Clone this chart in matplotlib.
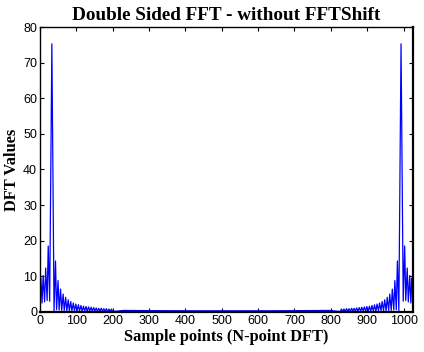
import matplotlib
matplotlib.use('Agg')
import matplotlib.pyplot as plt

# DFT magnitude (sample index is 1-based, N = 1024)
# low end of the spectrum: peak near bin 33 with its side lobes
bins_low = [1, 3, 6, 9, 13, 16, 20, 23, 27, 33, 39, 43, 46, 50, 53, 57, 60,
            64, 67, 71, 74, 78, 81, 85, 88, 92, 95, 99, 102, 106, 109, 113,
            116, 120, 123, 127, 130, 134, 137, 141, 144, 148, 151, 155, 158,
            162, 165, 169, 172, 176, 179, 183, 186, 190, 193, 197, 200,
            230, 300, 400, 513]
mag_low = [6.0, 9.5, 2.5, 10.2, 2.8, 12.3, 3.2, 18.5, 3.0, 75.3, 0.3, 14.3,
           0.6, 8.8, 0.5, 6.4, 0.4, 5.0, 0.4, 4.1, 0.3, 3.4, 0.3, 2.9, 0.3,
           2.5, 0.3, 2.2, 0.2, 2.0, 0.2, 1.8, 0.2, 1.6, 0.2, 1.5, 0.2, 1.4,
           0.2, 1.3, 0.2, 1.2, 0.2, 1.1, 0.2, 1.0, 0.2, 1.0, 0.1, 0.9, 0.1,
           0.9, 0.1, 0.8, 0.1, 0.8, 0.1, 0.4, 0.35, 0.3, 0.3]

# high end: mirror image, peak near bin 993
bins_high = [626, 726, 796, 826, 829, 833, 836, 840, 843, 847, 850, 854,
             857, 861, 864, 868, 871, 875, 878, 882, 885, 889, 892, 896,
             899, 903, 906, 910, 913, 917, 920, 924, 927, 931, 934, 938,
             941, 945, 948, 952, 955, 959, 962, 966, 969, 973, 976, 980,
             983, 987, 993, 999, 1003, 1006, 1010, 1013, 1017, 1020, 1023,
             1024]
mag_high = [0.3, 0.35, 0.4, 0.1, 0.8, 0.1, 0.8, 0.1, 0.9, 0.1, 0.9, 0.1,
            1.0, 0.2, 1.0, 0.2, 1.1, 0.2, 1.2, 0.2, 1.3, 0.2, 1.4, 0.2,
            1.5, 0.2, 1.6, 0.2, 1.8, 0.2, 2.0, 0.2, 2.2, 0.3, 2.5, 0.3,
            2.9, 0.3, 3.4, 0.3, 4.1, 0.4, 5.0, 0.4, 6.4, 0.5, 8.8, 0.6,
            14.3, 0.3, 75.3, 3.0, 18.5, 3.2, 12.3, 2.8, 10.2, 2.5, 9.5, 6.0]

x_ticks = [0, 100, 200, 300, 400, 500, 600, 700, 800, 900, 1000]
y_ticks = [0, 10, 20, 30, 40, 50, 60, 70, 80]

serif = ['Liberation Serif', 'DejaVu Serif']
tick_font = ['Liberation Sans Narrow', 'Liberation Sans', 'DejaVu Sans']

fig = plt.figure(figsize=(4.24, 3.52), dpi=100)
ax = fig.add_axes([0.094, 0.114, 0.881, 0.809])

ax.plot(bins_low + bins_high, mag_low + mag_high, color='#0000ff', linewidth=0.9)

ax.set_xlim(0, 1027)
ax.set_ylim(0, 80)
ax.set_xticks(x_ticks)
ax.set_yticks(y_ticks)
ax.tick_params(direction='in', top=True, right=True, length=3, width=0.8,
               labelsize=9, pad=2)
for lab in ax.get_xticklabels() + ax.get_yticklabels():
    lab.set_family(tick_font)

for side in ['left', 'top']:
    ax.spines[side].set_linewidth(1.0)
for side in ['bottom', 'right']:
    ax.spines[side].set_linewidth(1.6)

ax.set_title('Double Sided FFT - without FFTShift', family=serif,
             fontweight='bold', fontsize=13.8, pad=5)
ax.set_xlabel('Sample points (N-point DFT)', family=serif,
              fontweight='bold', fontsize=11.8, labelpad=2)
ax.set_ylabel('DFT Values', family=serif, fontweight='bold',
              fontsize=11.8, labelpad=2)

plt.savefig('out.png', dpi=100)
plt.close(fig)
